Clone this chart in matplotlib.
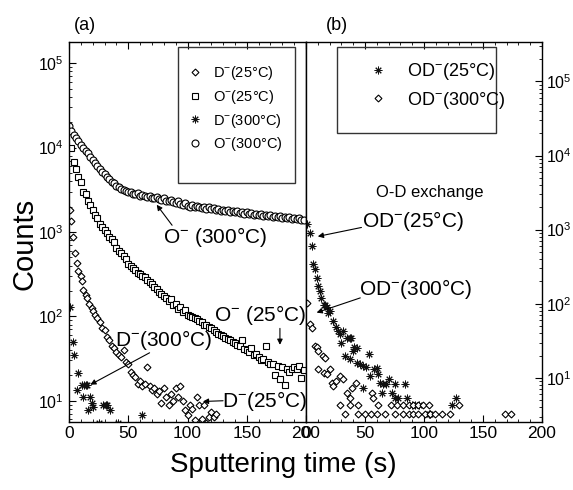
import numpy as np
import matplotlib
matplotlib.use('Agg')
import matplotlib.pyplot as plt
from matplotlib.patches import Rectangle
from matplotlib.ticker import MultipleLocator, LogLocator

plt.rcParams['font.family'] = 'Liberation Sans'
plt.rcParams['mathtext.fontset'] = 'custom'
plt.rcParams['mathtext.rm'] = 'Liberation Sans'
plt.rcParams['mathtext.it'] = 'Liberation Sans:italic'
plt.rcParams['mathtext.bf'] = 'Liberation Sans:bold'

# ---- panel (a) data ----
o300_t = list(range(0, 200, 2))
o300_c = [18000, 15500, 14000, 13000, 11800, 10800, 10000, 9200, 8500, 7800,
          7100, 6600, 6000, 5500, 5100, 4800, 4500, 4200, 3950, 3750,
          3550, 3400, 3250, 3150, 3050, 2950, 3000, 2850, 2800, 2900,
          2700, 2750, 2650, 2600, 2700, 2550, 2500, 2600, 2450, 2400,
          2500, 2350, 2300, 2400, 2250, 2200, 2300, 2150, 2100, 2200,
          2050, 2000, 2100, 1980, 2050, 1950, 1900, 2000, 1880, 1950,
          1850, 1900, 1800, 1870, 1780, 1820, 1750, 1800, 1720, 1780,
          1700, 1750, 1680, 1720, 1650, 1700, 1620, 1680, 1600, 1650,
          1580, 1620, 1560, 1600, 1540, 1580, 1520, 1560, 1500, 1540,
          1480, 1520, 1460, 1500, 1440, 1480, 1420, 1450, 1400, 1380]

o25_t = list(range(2, 200, 2))
o25_c = [10000, 6800, 5600, 4500, 3900, 3000, 2800, 2300, 2100, 1800,
         1600, 1450, 1250, 1150, 1050, 980, 880, 820, 760, 650,
         600, 560, 520, 480, 420, 400, 370, 350, 330, 320,
         300, 290, 270, 255, 240, 220, 210, 195, 185, 175,
         165, 150, 160, 135, 140, 122, 128, 112, 118, 105,
         100, 98, 95, 92, 88, 85, 80, 78, 75, 72,
         68, 66, 62, 60, 58, 56, 54, 52, 50, 48,
         46, 44, 52, 41, 40, 38, 42, 35, 36, 33,
         30, 31, 45, 29, 27, 27, 20, 26, 18, 25,
         15.5, 24, 22, 24, 25, 24, 26, 18.6, 23]

d25_t = [1, 2, 3, 5, 7, 8, 10, 11, 12, 14, 15, 17, 19, 20, 22, 24, 26, 28,
         30, 32, 34, 36, 38, 40, 42, 44, 46, 48, 50, 52, 54, 56, 58, 60, 62,
         64, 66, 68, 70, 72, 74, 76, 78, 80, 82, 84, 86, 88, 90, 92, 94, 96,
         98, 100, 102, 104, 106, 108, 110, 112, 114, 116, 118, 120, 122, 124]
d25_c = [1800, 1350, 870, 560, 430, 340, 300, 260, 205, 180, 165, 140, 126,
         115, 105, 96, 85, 73, 68, 57, 52, 44, 42, 38, 35, 33, 40, 29, 27,
         22, 20, 19, 16, 17, 15, 16, 25, 15, 13.5, 14, 12, 13, 9.5, 14, 11,
         9, 12, 10, 14, 11, 15, 10, 7.8, 6.8, 9, 8, 5.9, 11, 9, 6, 9, 5.5,
         6.5, 7.4, 6.5, 7]

d300_t = [1, 3, 4, 7, 8, 11, 12, 13, 14, 15, 16, 18, 19, 20, 25, 29, 31,
          32, 35, 41, 62]
d300_c = [130, 50, 35, 13.5, 21.5, 15.5, 11, 15.5, 15.5, 15.5, 7.8, 11,
          9.5, 8.5, 5.4, 9, 9, 9, 7.8, 5.4, 6.8]

# ---- panel (b) data ----
od25_t = [1, 3, 5, 6, 8, 9, 10, 12, 13, 15, 16, 18, 19, 20, 23, 25, 27, 29,
          30, 31, 33, 35, 37, 38, 37, 40, 41, 43, 43, 46, 48, 48, 51, 53, 54,
          58, 60, 61, 63, 64, 65, 68, 70, 73, 75, 75, 78, 84, 86, 90, 92, 96,
          104, 105, 124, 127]
od25_c = [1200, 890, 600, 345, 295, 225, 175, 150, 118, 97, 95, 91, 75, 80,
          59, 48, 43, 39, 30, 43, 20, 34, 35, 34, 18, 23, 26, 25.5, 16, 15.5,
          14.5, 7.3, 14, 21, 10.6, 13, 13.5, 11.3, 8.5, 6.3, 8.3, 8.3, 9.7,
          6.3, 8.3, 5.4, 5.4, 8.3, 5.4, 4.3, 4.3, 4.3, 3.3, 3.3, 4.3, 5.4]

od300_t = [1, 3, 5, 8, 9, 10, 10, 14, 15, 16, 18, 20, 22, 23, 25, 29, 29,
           31, 33, 35, 37, 37, 39, 42, 44, 44, 50, 55, 56, 57, 60, 61, 67,
           72, 75, 77, 82, 82, 87, 87, 91, 91, 95, 95, 99, 101, 104, 105,
           109, 115, 122, 130, 169, 174]
od300_c = [103, 54, 47, 27, 26, 23, 13, 20, 11.7, 18.6, 11.3, 13, 8.6, 7.8,
           9.1, 10.6, 4.3, 9.7, 3.3, 6.3, 5.4, 4.3, 7.3, 8.6, 4.3, 3.3, 3.3,
           3.3, 6.3, 5.4, 3.3, 4.3, 3.3, 4.3, 3.3, 4.3, 4.3, 3.3, 4.3, 3.3,
           4.3, 3.3, 4.3, 3.3, 4.3, 3.3, 4.3, 3.3, 3.3, 3.3, 3.3, 4.3, 3.3,
           3.3]

W, H = 573, 490
fig = plt.figure(figsize=(W / 100, H / 100), dpi=100)
ax1 = fig.add_axes([69 / W, 1 - 422 / H, 237 / W, 380 / H])
ax2 = fig.add_axes([306 / W, 1 - 422 / H, 236 / W, 380 / H])

mk = dict(linestyle='none', markerfacecolor='white', markeredgecolor='black',
          markeredgewidth=0.8)
star = dict(linestyle='none', marker=(8, 2, 0), color='#111111',
            markersize=5.5, markeredgewidth=0.7)

# panel (a)
h1, = ax1.plot(d25_t, d25_c, marker='D', markersize=3.5,
               label='D$^{-}$(25°C)', **mk)
h2, = ax1.plot(o25_t, o25_c, marker='s', markersize=4.5,
               label='O$^{-}$(25°C)', **mk)
h3, = ax1.plot(d300_t, d300_c, label='D$^{-}$(300°C)', **star)
h4, = ax1.plot(o300_t, o300_c, marker='o', markersize=5,
               label='O$^{-}$(300°C)', **mk)

# panel (b)
g1, = ax2.plot(od25_t, od25_c, label='OD$^{-}$(25°C)', **star)
g2, = ax2.plot(od300_t, od300_c, marker='D', markersize=3.5,
               label='OD$^{-}$(300°C)', **mk)

for ax in (ax1, ax2):
    ax.set_yscale('log')
    ax.set_xlim(0, 200)
    ax.xaxis.set_major_locator(MultipleLocator(50))
    ax.xaxis.set_minor_locator(MultipleLocator(10))
    ax.yaxis.set_major_locator(LogLocator(base=10))
    ax.yaxis.set_minor_locator(LogLocator(base=10, subs=np.arange(2, 10)))
    ax.tick_params(which='both', direction='in', top=True)
    ax.tick_params(axis='x', labelsize=12.5, pad=3)
    ax.tick_params(axis='y', labelsize=11.5)
    ax.tick_params(which='major', length=5, width=0.8)
    ax.tick_params(which='minor', length=2.5, width=0.6)
    for s in ax.spines.values():
        s.set_linewidth(1.0)

ax1.set_ylim(5.6, 1.78e5)
ax2.set_ylim(2.54, 3.4e5)
ax1.tick_params(axis='y', which='both', left=True, right=False, pad=4)
ax2.tick_params(axis='y', which='both', left=False, right=True,
                labelleft=False, labelright=True, pad=3)

# legends
ax1.add_patch(Rectangle((0.46, 0.629), 0.494, 0.358, transform=ax1.transAxes,
                        fill=False, lw=1.0, ec='#333333', zorder=5))
ax1.legend(handles=[h1, h2, h3, h4], loc='upper left',
           bbox_to_anchor=(0.501, 0.941), frameon=False, fontsize=10.5,
           handlelength=1.0, handletextpad=0.73, labelspacing=0.38,
           borderaxespad=0, borderpad=0)
ax2.add_patch(Rectangle((0.131, 0.76), 0.674, 0.227, transform=ax2.transAxes,
                        fill=False, lw=1.0, ec='#333333', zorder=5))
ax2.legend(handles=[g1, g2], loc='upper left',
           bbox_to_anchor=(0.267, 0.949), frameon=False, fontsize=13,
           handlelength=1.0, handletextpad=1.1, labelspacing=0.4,
           borderaxespad=0, borderpad=0)

# annotations
arr = dict(arrowstyle='-|>', color='black', lw=0.8, mutation_scale=8,
           shrinkA=0, shrinkB=0)
ax1.annotate('', xy=(74, 2100), xytext=(87, 1200), arrowprops=arr)
ax1.text(123, 870, 'O$^{-}$ (300°C)', fontsize=15, ha='center', va='center')
ax1.annotate('', xy=(178, 46), xytext=(178, 72), arrowprops=arr)
ax1.text(161, 105, 'O$^{-}$ (25°C)', fontsize=15, ha='center', va='center')
ax1.annotate('', xy=(18, 15.5), xytext=(68, 37), arrowprops=arr)
ax1.text(80, 52, 'D$^{-}$(300°C)', fontsize=15, ha='center', va='center')
ax1.annotate('', xy=(113, 9.8), xytext=(130, 10.0), arrowprops=arr)
ax1.text(165, 9.8, 'D$^{-}$(25°C)', fontsize=15, ha='center', va='center')

ax2.annotate('', xy=(10, 810), xytext=(47, 1070), arrowprops=arr)
ax2.text(91, 1320, 'OD$^{-}$(25°C)', fontsize=15, ha='center', va='center')
ax2.annotate('', xy=(9, 76), xytext=(46, 120), arrowprops=arr)
ax2.text(93, 160, 'OD$^{-}$(300°C)', fontsize=15, ha='center', va='center')
ax2.text(105, 3160, 'O-D exchange', fontsize=12, ha='center', va='center')

fig.text(85 / W, 1 - 25 / H, '(a)', fontsize=13, ha='center', va='center')
fig.text(337 / W, 1 - 25 / H, '(b)', fontsize=13, ha='center', va='center')
fig.text(283 / W, 1 - 465 / H, 'Sputtering time (s)', fontsize=20,
         ha='center', va='center')
fig.text(24 / W, 1 - 244 / H, 'Counts', fontsize=21, rotation=90,
         ha='center', va='center')

fig.savefig('out.png', dpi=100)
